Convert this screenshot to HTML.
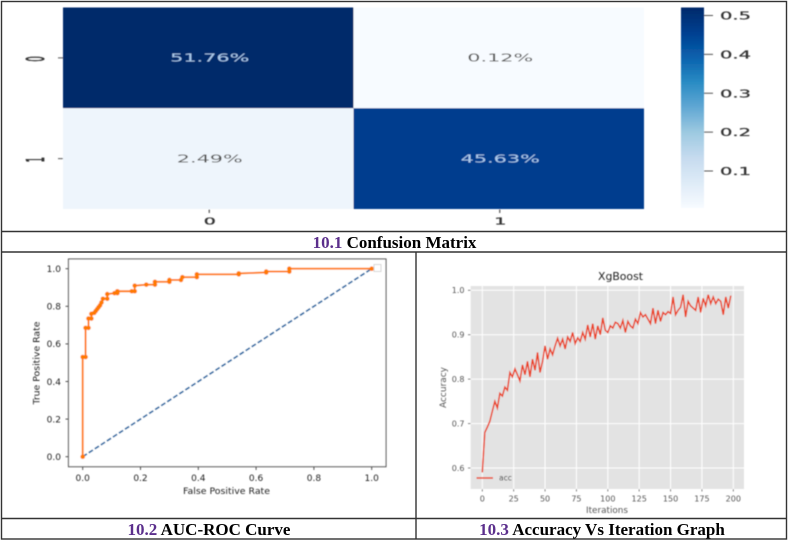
<!DOCTYPE html>
<html>
<head>
<meta charset="utf-8">
<title>Model evaluation figures</title>
<style>
html,body{margin:0;padding:0;background:#fff;width:789px;height:541px;overflow:hidden}
svg{display:block}
text{font-family:"DejaVu Sans","Liberation Sans",sans-serif}
.cap{font-family:"Liberation Serif",serif;font-weight:bold;font-size:17px;fill:#000;text-anchor:middle}
.num{fill:#5b2f8c}
</style>
</head>
<body>
<svg id="fig" xmlns="http://www.w3.org/2000/svg" width="789" height="541" viewBox="0 0 789 541">
  <defs>
    <filter id="soft" x="-5%" y="-5%" width="110%" height="110%"><feGaussianBlur stdDeviation="0.4"/></filter>
    <linearGradient id="cbar-grad" x1="0" y1="1" x2="0" y2="0"></linearGradient>
  </defs>
  <g id="heat" filter="url(#soft)"></g>
  <g id="roc" filter="url(#soft)"></g>
  <g id="acc" filter="url(#soft)"></g>
  <g fill="none" stroke="#333" stroke-width="1.4">
    <rect x="1.5" y="1.5" width="785" height="537.5"/>
    <line x1="1.5" y1="231.5" x2="786.5" y2="231.5"/>
    <line x1="1.5" y1="252" x2="786.5" y2="252"/>
    <line x1="1.5" y1="518.5" x2="786.5" y2="518.5"/>
    <line x1="416" y1="252" x2="416" y2="539"/>
  </g>
  <text class="cap" x="394.5" y="248"><tspan class="num">10.1</tspan> Confusion Matrix</text>
  <text class="cap" x="209" y="535"><tspan class="num">10.2</tspan> AUC-ROC Curve</text>
  <text class="cap" x="602" y="535"><tspan class="num">10.3</tspan> Accuracy Vs Iteration Graph</text>
</svg>
<script>
// ---------- confusion matrix data ----------
const heatCategories = ['0', '1'];
const heatValues = [[0.5176, 0.0012], [0.0249, 0.4563]];
const colorbarTicks = [0.1, 0.2, 0.3, 0.4, 0.5];
// ---------- ROC data ----------
const rocFpr = [0, 0, 0.01, 0.01, 0.02, 0.02, 0.03, 0.03, 0.04, 0.045, 0.05, 0.055, 0.06, 0.065, 0.07, 0.085, 0.085, 0.11, 0.12, 0.12, 0.17, 0.18, 0.18, 0.22, 0.25, 0.25, 0.30, 0.30, 0.34, 0.345, 0.395, 0.395, 0.54, 0.54, 0.635, 0.635, 0.715, 0.715, 1.0];
const rocTpr = [0, 0.53, 0.53, 0.685, 0.685, 0.735, 0.735, 0.76, 0.765, 0.775, 0.785, 0.795, 0.805, 0.82, 0.84, 0.84, 0.865, 0.87, 0.87, 0.88, 0.88, 0.88, 0.91, 0.915, 0.915, 0.93, 0.93, 0.94, 0.94, 0.955, 0.955, 0.97, 0.97, 0.975, 0.98, 0.985, 0.985, 1.0, 1.0];
const chanceFpr = [0, 1];
const chanceTpr = [0, 1];
const rocTicks = [0, 0.2, 0.4, 0.6, 0.8, 1.0];
// ---------- accuracy data ----------
const iterStep = 2;
const accValues = [0.59,0.68,0.692,0.705,0.728,0.75,0.735,0.768,0.762,0.782,0.775,0.815,0.805,0.823,0.81,0.796,0.832,0.81,0.84,0.805,0.845,0.82,0.86,0.815,0.84,0.875,0.845,0.868,0.855,0.875,0.892,0.875,0.89,0.868,0.895,0.885,0.905,0.88,0.893,0.885,0.905,0.89,0.922,0.895,0.925,0.89,0.92,0.9,0.938,0.91,0.905,0.92,0.915,0.928,0.925,0.915,0.932,0.905,0.93,0.92,0.915,0.935,0.925,0.95,0.94,0.945,0.935,0.925,0.96,0.925,0.955,0.93,0.95,0.945,0.952,0.948,0.985,0.945,0.955,0.962,0.99,0.94,0.975,0.965,0.96,0.955,0.985,0.95,0.982,0.965,0.99,0.97,0.985,0.97,0.98,0.975,0.945,0.985,0.96,0.988];
const accXTicks = [0, 25, 50, 75, 100, 125, 150, 175, 200];
const accYTicks = [0.6, 0.7, 0.8, 0.9, 1.0];

const NS = 'http://www.w3.org/2000/svg';
function mk(parent, tag, attrs, txt) {
  const el = document.createElementNS(NS, tag);
  for (const k in attrs) el.setAttribute(k, attrs[k]);
  if (txt !== undefined) el.textContent = txt;
  parent.appendChild(el);
  return el;
}
function scale(d0, d1, r0, r1) { return v => r0 + (v - d0) * (r1 - r0) / (d1 - d0); }
function pathOf(xs, ys, fx, fy) { return xs.map((x, i) => (i ? 'L' : 'M') + fx(x).toFixed(2) + ' ' + fy(ys[i]).toFixed(2)).join(''); }

// Blues-style colormap tuned to the reference
const bluesStops = ['#f7fbff','#deebf7','#c6dbef','#9ecae1','#62a8d4','#2a8cc4','#0a62ae','#003f90','#002a6a'];
function hexRgb(h){return [1,3,5].map(i=>parseInt(h.substr(i,2),16));}
function blues(t){
  t=Math.max(0,Math.min(1,t));
  const p=t*(bluesStops.length-1), i=Math.min(Math.floor(p),bluesStops.length-2), f=p-i;
  const a=hexRgb(bluesStops[i]), b=hexRgb(bluesStops[i+1]);
  return 'rgb('+a.map((c,j)=>Math.round(c+(b[j]-c)*f)).join(',')+')';
}

// ---------- heatmap ----------
(function(){
  const g = document.getElementById('heat');
  const L = 63, R = 644, T = 7.5, B = 209;
  const flat = heatValues.flat();
  const vmin = Math.min(...flat), vmax = Math.max(...flat);
  const cw = (R - L) / heatCategories.length, ch = (B - T) / heatCategories.length;
  heatValues.forEach((row, r) => row.forEach((v, c) => {
    const rect = mk(g, 'rect', {x: L + c * cw, y: T + r * ch, width: cw, height: ch, fill: blues((v - vmin) / (vmax - vmin))});
    
    
    const label = (v * 100).toFixed(2) + '%';
    const light = v > 0.25;
    const t = mk(g, 'text', {x: L + (c + 0.5) * cw + 1.5, y: T + (r + 0.5) * ch + 3.8, 'text-anchor': 'middle', 'font-size': 11, fill: light ? '#a9c9ec' : '#555', textLength: label.length * 13.2, lengthAdjust: 'spacingAndGlyphs'}, label);
    
    
  }));
  heatCategories.forEach((c, i) => {
    const yc = T + (i + 0.5) * ch, xc = L + (i + 0.5) * cw;
    const yt = mk(g, 'line', {x1: 58, x2: 63, y1: yc, y2: yc, stroke: '#555', 'stroke-width': 1});
    
    
    const yl = mk(g, 'text', {transform: 'translate(35,' + (yc + 1) + ') scale(2.45,0.85) rotate(-90)', 'text-anchor': 'middle', y: 3.6, 'font-size': 10, fill: '#333', stroke: '#333', 'stroke-width': 0.3}, c);
    
    
    const xt = mk(g, 'line', {x1: xc + 1, x2: xc + 1, y1: 209.5, y2: 213, stroke: '#555', 'stroke-width': 1.2});
    
    
    const xl = mk(g, 'text', {transform: 'translate(' + (xc + 1.5) + ',224.5) scale(1.9,1)', 'text-anchor': 'middle', 'font-size': 10, fill: '#333', stroke: '#333', 'stroke-width': 0.3}, c);
    
    
  });
  // colorbar
  const grad = document.getElementById('cbar-grad');
  bluesStops.forEach((col, i) => mk(grad, 'stop', {offset: i / (bluesStops.length - 1), 'stop-color': col}));
  const cb = mk(g, 'rect', {x: 681, y: 7.5, width: 23, height: 200.5, fill: 'url(#cbar-grad)'});
  
  
  const cy = scale(0.1, 0.5, 171, 15.5);
  colorbarTicks.forEach(v => {
    const tk = mk(g, 'line', {x1: 704, x2: 713, y1: cy(v), y2: cy(v), stroke: '#555', 'stroke-width': 1});
    
    
    const lb = mk(g, 'text', {x: 720, y: cy(v) + 4, 'font-size': 11, fill: '#333', stroke: '#333', 'stroke-width': 0.25, textLength: 31, lengthAdjust: 'spacingAndGlyphs'}, v.toFixed(1));
    
    
  });
})();

// ---------- ROC ----------
(function(){
  const g = document.getElementById('roc');
  const x = scale(0, 1, 82.7, 371.7), y = scale(0, 1, 456.7, 268.7);
  const frame = mk(g, 'rect', {x: 68.5, y: 259, width: 317.5, height: 207.7, fill: '#fff', stroke: '#555', 'stroke-width': 1.1});
  
  
  rocTicks.forEach(v => {
    const xt = mk(g, 'line', {x1: x(v), x2: x(v), y1: 466.7, y2: 470, stroke: '#444', 'stroke-width': 0.9});
    
    
    const xl = mk(g, 'text', {x: x(v), y: 481, 'text-anchor': 'middle', 'font-size': 9, fill: '#222'}, v.toFixed(1));
    
    
    const yt = mk(g, 'line', {x1: 65.5, x2: 68.5, y1: y(v), y2: y(v), stroke: '#444', 'stroke-width': 0.9});
    
    
    const yl = mk(g, 'text', {x: 61, y: y(v) + 3.3, 'text-anchor': 'end', 'font-size': 9, fill: '#222'}, v.toFixed(1));
    
    
  });
  const chance = mk(g, 'path', {d: pathOf(chanceFpr, chanceTpr, x, y), fill: 'none', stroke: '#1266a3', 'stroke-width': 1.7, 'stroke-dasharray': '5 2.2'});
  
  
  const curve = mk(g, 'path', {d: pathOf(rocFpr, rocTpr, x, y), fill: 'none', stroke: '#ff7a00', 'stroke-width': 1.9});
  
  
  rocFpr.forEach((f, i) => {
    const p = mk(g, 'circle', {cx: x(f), cy: y(rocTpr[i]), r: 2.3, fill: '#ff7a00'});
    
    
  });
  const leg = mk(g, 'rect', {x: 374, y: 264.5, width: 7, height: 7, fill: '#fff', stroke: '#ccc', 'stroke-width': 0.8});
  
  
  const xTitle = mk(g, 'text', {x: 226.5, y: 494, 'text-anchor': 'middle', 'font-size': 9, fill: '#222', textLength: 87, lengthAdjust: 'spacingAndGlyphs'}, 'False Positive Rate');
  
  
  const yTitle = mk(g, 'text', {transform: 'translate(39.5,363) rotate(-90)', 'text-anchor': 'middle', 'font-size': 9, fill: '#222', textLength: 83, lengthAdjust: 'spacingAndGlyphs'}, 'True Positive Rate');
  
  
})();

// ---------- accuracy ----------
(function(){
  const g = document.getElementById('acc');
  const x = scale(0, 200, 482.3, 733.3), y = scale(0.6, 1.0, 468, 290.3);
  const bg = mk(g, 'rect', {x: 470.7, y: 286, width: 273.3, height: 203, fill: '#e3e3e3'});
  
  
  accXTicks.forEach(v => {
    const gl = mk(g, 'line', {x1: x(v), x2: x(v), y1: 286, y2: 489, stroke: '#fff', 'stroke-width': 1});
    
    
    const tk = mk(g, 'line', {x1: x(v), x2: x(v), y1: 489, y2: 491.5, stroke: '#555', 'stroke-width': 0.7});
    
    
    const lb = mk(g, 'text', {x: x(v), y: 501.5, 'text-anchor': 'middle', 'font-size': 8, fill: '#555'}, String(v));
    
    
  });
  accYTicks.forEach(v => {
    const gl = mk(g, 'line', {x1: 470.7, x2: 744, y1: y(v), y2: y(v), stroke: '#fff', 'stroke-width': 1});
    
    
    const tk = mk(g, 'line', {x1: 468, x2: 470.7, y1: y(v), y2: y(v), stroke: '#555', 'stroke-width': 0.7});
    
    
    const lb = mk(g, 'text', {x: 464.5, y: y(v) + 2.9, 'text-anchor': 'end', 'font-size': 8, fill: '#555'}, v.toFixed(1));
    
    
  });
  const iters = accValues.map((_, i) => i * iterStep);
  const line = mk(g, 'path', {d: pathOf(iters, accValues, x, y), fill: 'none', stroke: '#ea3f22', 'stroke-width': 1.5});
  
  
  const ll = mk(g, 'line', {x1: 476.5, x2: 493, y1: 478, y2: 478, stroke: '#ea3f22', 'stroke-width': 1.4});
  
  
  const lt = mk(g, 'text', {x: 499, y: 480.5, 'font-size': 7.5, fill: '#333'}, 'acc');
  
  
  const title = mk(g, 'text', {x: 620.5, y: 280, 'text-anchor': 'middle', 'font-size': 10.5, fill: '#222', textLength: 45, lengthAdjust: 'spacingAndGlyphs'}, 'XgBoost');
  
  
  const xTitle = mk(g, 'text', {x: 607, y: 513, 'text-anchor': 'middle', 'font-size': 8.6, fill: '#555', textLength: 42, lengthAdjust: 'spacingAndGlyphs'}, 'Iterations');
  
  
  const yTitle = mk(g, 'text', {transform: 'translate(446,387.5) rotate(-90)', 'text-anchor': 'middle', 'font-size': 8.6, fill: '#555', textLength: 41, lengthAdjust: 'spacingAndGlyphs'}, 'Accuracy');
  
  
})();
</script>
</body>
</html>
